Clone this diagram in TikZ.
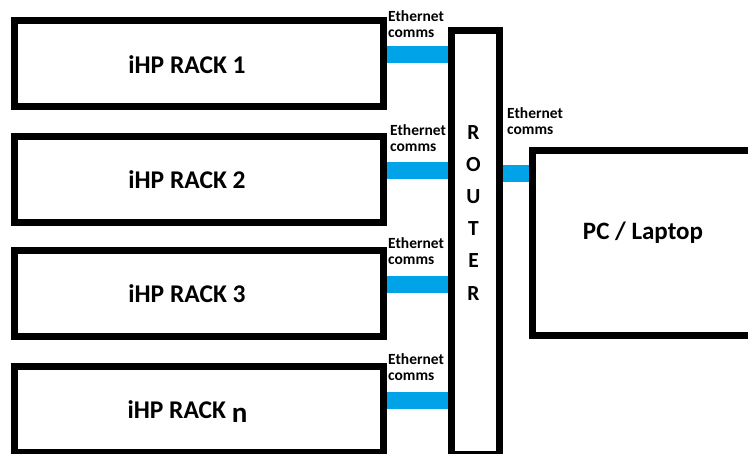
\documentclass[tikz,border=0pt]{standalone}
\usepackage{fontspec}
\setmainfont{Carlito}
\usetikzlibrary{backgrounds}
\definecolor{linkblue}{RGB}{0,162,232}
\begin{document}
\begin{tikzpicture}[x=1pt,y=-1pt,
  box/.style={draw, line width=7pt, inner sep=0pt, outer sep=0pt},
  rack/.style={box, minimum width=369pt, minimum height=86pt},
  link/.style={linkblue, line width=17pt},
  lbl/.style={font=\bfseries\fontsize{15.5}{16.5}\selectfont, align=left, inner sep=0pt, anchor=base west},
  big/.style={font=\bfseries\fontsize{25.5}{28}\selectfont, inner sep=0pt, anchor=base},
]
\useasboundingbox (0,0) rectangle (748,454);
\clip (0,0) rectangle (748,454);

\node[rack] (r1) at (199,63.5) {};
\node[rack] (r2) at (199,179.5) {};
\node[rack] (r3) at (199,293.5) {};
\node[rack] (rn) at (199,409.5) {};
\node[box, minimum width=48pt, minimum height=424pt] (router) at (475.5,242.5) {};
\node[box, minimum width=227.5pt, minimum height=185pt] (pc) at (646.25,243) {};

\node[big] (t1) at (187,74) {iHP RACK 1};
\node[big] (t2) at (187,189) {iHP RACK 2};
\node[big] (t3) at (187,303) {iHP RACK 3};
\node[big] (tn) at (187.5,419) {iHP RACK {\fontsize{29}{30}\selectfont\raisebox{-3.5pt}{n}}};
\node[font=\bfseries\fontsize{25}{30}\selectfont, inner sep=0pt, anchor=base] (tpc) at (643,240) {PC / Laptop};
\node[font=\bfseries\fontsize{21.5}{32.2}\selectfont, align=center, inner sep=0pt, anchor=north] (trouter) at (473.5,125) {R\\O\\U\\T\\E\\R};

\node[lbl] (l1) at (388,38) {Ethernet\\comms};
\node[lbl] (l2) at (390,152) {Ethernet\\comms};
\node[lbl] (l3) at (388,265) {Ethernet\\comms};
\node[lbl] (ln) at (388,381) {Ethernet\\comms};
\node[lbl] (lpc) at (507,135) {Ethernet\\comms};

\begin{scope}[on background layer]
\fill[white] (0,0) rectangle (748,454);
\draw[link] ([yshift=8.5pt]r1.east) -- ([yshift=8.5pt]r1.east -| router.west);
\draw[link] ([yshift=8.5pt]r2.east) -- ([yshift=8.5pt]r2.east -| router.west);
\draw[link] ([yshift=9pt]r3.east) -- ([yshift=9pt]r3.east -| router.west);
\draw[link] ([yshift=8.5pt]rn.east) -- ([yshift=8.5pt]rn.east -| router.west);
\draw[link] ([yshift=69pt]pc.west -| router.east) -- ([yshift=69pt]pc.west);
\end{scope}
\end{tikzpicture}
\end{document}
